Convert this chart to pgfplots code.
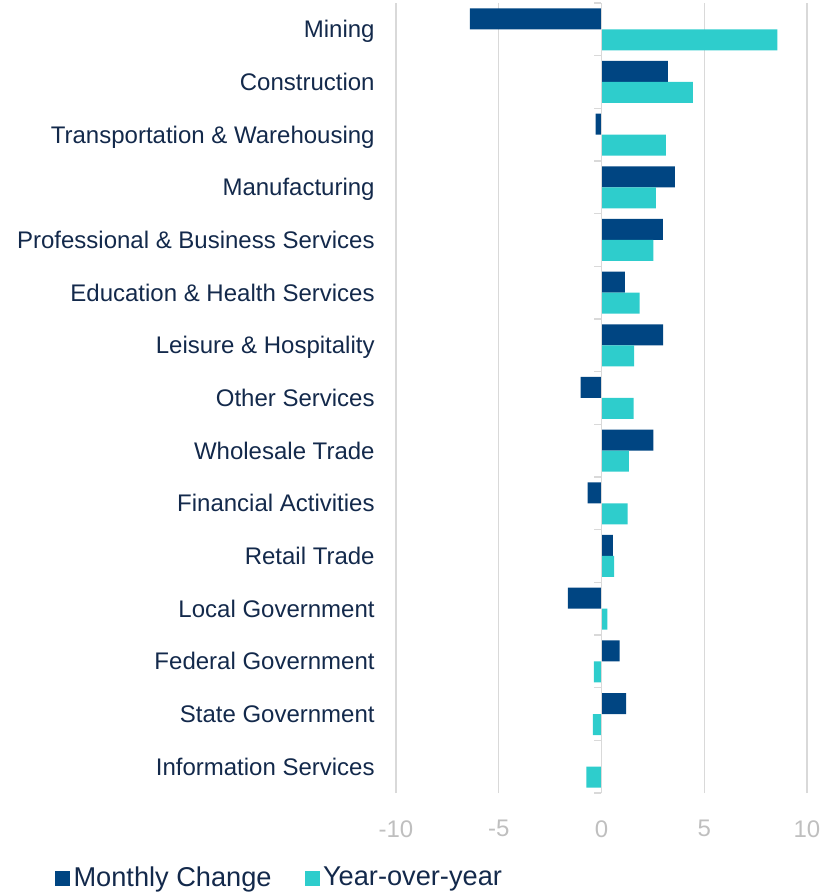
\documentclass[border=0pt]{standalone}
\usepackage{pgfplots}
\pgfplotsset{compat=1.18}
\usepackage{fontspec}
\setmainfont{Liberation Sans}
\definecolor{navy}{RGB}{0,69,130}
\definecolor{turq}{RGB}{46,205,204}
\definecolor{labc}{RGB}{19,41,75}
\definecolor{gridc}{RGB}{217,217,217}
\definecolor{tickc}{RGB}{191,191,191}
\pgfplotstableread{
y monthly yoy
14 -6.41 8.56
13 3.23 4.45
12 -0.29 3.13
11 3.57 2.65
10 2.99 2.53
9 1.14 1.85
8 3.00 1.59
7 -1.01 1.56
6 2.53 1.33
5 -0.68 1.27
4 0.55 0.62
3 -1.64 0.29
2 0.88 -0.37
1 1.20 -0.42
0 0 -0.73
}\datatable
\begin{document}
\begin{tikzpicture}
\path[use as bounding box] (-198pt,-50pt) rectangle (219.5pt,396.5pt);
\begin{axis}[
  at={(0,0)}, anchor=south west,
  scale only axis, width=205.5pt, height=395pt,
  xmin=-10, xmax=10, ymin=-0.5, ymax=14.5,
  xtick={-10,-5,0,5,10},
  ytick={0,...,14},
  yticklabels={Information Services,State Government,Federal Government,Local Government,Retail Trade,Financial Activities,Wholesale Trade,Other Services,Leisure \& Hospitality,Education \& Health Services,Professional \& Business Services,Manufacturing,Transportation \& Warehousing,Construction,Mining},
  axis line style={draw=none},
  major tick length=0pt,
  xmajorgrids, grid style={gridc, line width=0.7pt},
  /pgf/number format/assume math mode=true,
  yticklabel style={anchor=base east, inner sep=0pt, xshift=-10.5pt, yshift=-4.3pt, font=\fontsize{12pt}{14pt}\selectfont, text=labc},
  xticklabel style={anchor=north, inner sep=0pt, yshift=-13.5pt, font=\fontsize{12pt}{14pt}\selectfont, text=tickc},
  xbar, bar width=10.5pt,
  legend style={at={(axis description cs:0,0)}, anchor=west, xshift=-173.5pt, yshift=-42.5pt, draw=none, fill=none,
    legend columns=2, font=\fontsize{13.6pt}{15pt}\selectfont, text=labc,
    /tikz/every even column/.append style={column sep=15pt},
    nodes={inner sep=1.6pt}},
  legend image code/.code={\fill[#1] (0pt,-3.75pt) rectangle (7.5pt,3.75pt);},
]
\addplot[fill=navy, draw=none, bar shift=5.25pt] table[x=monthly, y=y] {\datatable};
\addlegendentry{Monthly Change}
\addplot[fill=turq, draw=none, bar shift=-5.25pt] table[x=yoy, y=y] {\datatable};
\addlegendentry{Year-over-year}
\draw[gridc, line width=0.7pt] (axis cs:0,-0.5) -- (axis cs:0,14.5);
\pgfplotsinvokeforeach{-0.5,0.5,...,14.5}{\draw[gridc, line width=0.7pt] (axis cs:0,#1) -- ++(-3.5pt,0pt);}
\end{axis}
\end{tikzpicture}
\end{document}
